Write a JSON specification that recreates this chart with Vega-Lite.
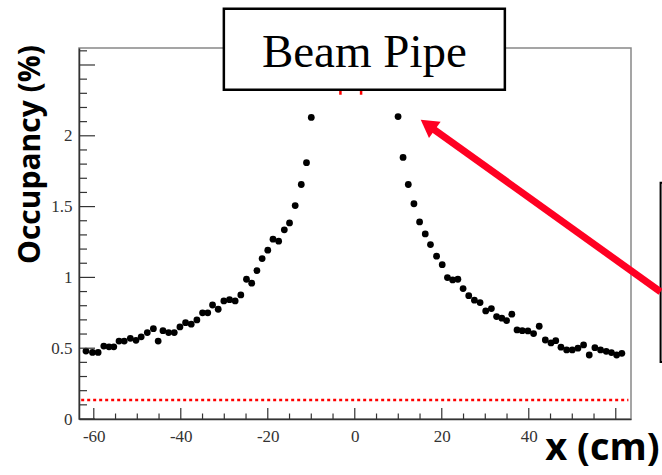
{
  "$schema": "https://vega.github.io/schema/vega-lite/v6.json",
  "width": 552,
  "height": 371,
  "autosize": {"type": "none"},
  "padding": {"left": 79, "top": 48, "right": 31, "bottom": 56},
  "background": "white",
  "config": {"view": {"stroke": "#888888", "strokeWidth": 1.5}},
  "datasets": {
    "pts": [
      {"x": -61.8, "y": 0.48}, {"x": -60.3, "y": 0.47}, {"x": -59.0, "y": 0.47}, {"x": -57.7, "y": 0.515},
      {"x": -56.5, "y": 0.51}, {"x": -55.4, "y": 0.51}, {"x": -54.2, "y": 0.55}, {"x": -53.0, "y": 0.55},
      {"x": -51.6, "y": 0.57}, {"x": -50.3, "y": 0.556}, {"x": -49.1, "y": 0.58}, {"x": -47.7, "y": 0.61},
      {"x": -46.3, "y": 0.638}, {"x": -45.2, "y": 0.55}, {"x": -44.1, "y": 0.624}, {"x": -42.8, "y": 0.61},
      {"x": -41.5, "y": 0.61}, {"x": -40.2, "y": 0.65}, {"x": -38.9, "y": 0.68}, {"x": -37.6, "y": 0.67},
      {"x": -36.3, "y": 0.70}, {"x": -35.0, "y": 0.75}, {"x": -33.8, "y": 0.75}, {"x": -32.7, "y": 0.805},
      {"x": -31.4, "y": 0.775}, {"x": -30.1, "y": 0.834}, {"x": -28.8, "y": 0.843}, {"x": -27.5, "y": 0.834},
      {"x": -26.2, "y": 0.876}, {"x": -24.9, "y": 0.987}, {"x": -23.7, "y": 0.959}, {"x": -22.5, "y": 1.048},
      {"x": -21.3, "y": 1.133}, {"x": -20.0, "y": 1.192}, {"x": -18.8, "y": 1.27}, {"x": -17.5, "y": 1.256},
      {"x": -16.2, "y": 1.336}, {"x": -15.0, "y": 1.385}, {"x": -13.7, "y": 1.507}, {"x": -12.3, "y": 1.656},
      {"x": -11.1, "y": 1.81}, {"x": -10.0, "y": 2.13},
      {"x": 9.95, "y": 2.136}, {"x": 11.1, "y": 1.847}, {"x": 12.3, "y": 1.656}, {"x": 13.6, "y": 1.52},
      {"x": 14.9, "y": 1.392}, {"x": 16.2, "y": 1.307}, {"x": 17.4, "y": 1.232}, {"x": 18.8, "y": 1.15},
      {"x": 20.1, "y": 1.09}, {"x": 21.3, "y": 0.999}, {"x": 22.5, "y": 0.982}, {"x": 23.7, "y": 0.987},
      {"x": 24.9, "y": 0.921}, {"x": 26.2, "y": 0.871}, {"x": 27.5, "y": 0.839}, {"x": 28.8, "y": 0.822},
      {"x": 30.1, "y": 0.763}, {"x": 31.4, "y": 0.78}, {"x": 32.6, "y": 0.723}, {"x": 33.8, "y": 0.712},
      {"x": 34.9, "y": 0.695}, {"x": 36.1, "y": 0.74}, {"x": 37.3, "y": 0.629}, {"x": 38.5, "y": 0.624},
      {"x": 39.8, "y": 0.622}, {"x": 41.1, "y": 0.603}, {"x": 42.4, "y": 0.655}, {"x": 43.8, "y": 0.558},
      {"x": 45.1, "y": 0.537}, {"x": 46.2, "y": 0.553}, {"x": 47.4, "y": 0.507}, {"x": 48.7, "y": 0.488},
      {"x": 50.0, "y": 0.488}, {"x": 51.3, "y": 0.50}, {"x": 52.6, "y": 0.523}, {"x": 53.9, "y": 0.452},
      {"x": 55.2, "y": 0.504}, {"x": 56.5, "y": 0.488}, {"x": 57.8, "y": 0.478}, {"x": 59.0, "y": 0.469},
      {"x": 60.2, "y": 0.452}, {"x": 61.4, "y": 0.464}
    ],
    "xticks": [
      {"x": -60, "y": 0, "kind": "major"}, {"x": -55, "y": 0, "kind": "minor"}, {"x": -50, "y": 0, "kind": "minor"}, {"x": -45, "y": 0, "kind": "minor"},
      {"x": -40, "y": 0, "kind": "major"}, {"x": -35, "y": 0, "kind": "minor"}, {"x": -30, "y": 0, "kind": "minor"}, {"x": -25, "y": 0, "kind": "minor"},
      {"x": -20, "y": 0, "kind": "major"}, {"x": -15, "y": 0, "kind": "minor"}, {"x": -10, "y": 0, "kind": "minor"}, {"x": -5, "y": 0, "kind": "minor"},
      {"x": 0, "y": 0, "kind": "major"}, {"x": 5, "y": 0, "kind": "minor"}, {"x": 10, "y": 0, "kind": "minor"}, {"x": 15, "y": 0, "kind": "minor"},
      {"x": 20, "y": 0, "kind": "major"}, {"x": 25, "y": 0, "kind": "minor"}, {"x": 30, "y": 0, "kind": "minor"}, {"x": 35, "y": 0, "kind": "minor"},
      {"x": 40, "y": 0, "kind": "major"}, {"x": 45, "y": 0, "kind": "minor"}, {"x": 50, "y": 0, "kind": "minor"}, {"x": 55, "y": 0, "kind": "minor"},
      {"x": 60, "y": 0, "kind": "major"}
    ],
    "yticks": [
      {"x": -63.4, "y": 0, "kind": "major"}, {"x": -63.4, "y": 0.1, "kind": "minor"}, {"x": -63.4, "y": 0.2, "kind": "minor"}, {"x": -63.4, "y": 0.3, "kind": "minor"}, {"x": -63.4, "y": 0.4, "kind": "minor"},
      {"x": -63.4, "y": 0.5, "kind": "major"}, {"x": -63.4, "y": 0.6, "kind": "minor"}, {"x": -63.4, "y": 0.7, "kind": "minor"}, {"x": -63.4, "y": 0.8, "kind": "minor"}, {"x": -63.4, "y": 0.9, "kind": "minor"},
      {"x": -63.4, "y": 1.0, "kind": "major"}, {"x": -63.4, "y": 1.1, "kind": "minor"}, {"x": -63.4, "y": 1.2, "kind": "minor"}, {"x": -63.4, "y": 1.3, "kind": "minor"}, {"x": -63.4, "y": 1.4, "kind": "minor"},
      {"x": -63.4, "y": 1.5, "kind": "major"}, {"x": -63.4, "y": 1.6, "kind": "minor"}, {"x": -63.4, "y": 1.7, "kind": "minor"}, {"x": -63.4, "y": 1.8, "kind": "minor"}, {"x": -63.4, "y": 1.9, "kind": "minor"},
      {"x": -63.4, "y": 2.0, "kind": "major"}, {"x": -63.4, "y": 2.1, "kind": "minor"}, {"x": -63.4, "y": 2.2, "kind": "minor"}, {"x": -63.4, "y": 2.3, "kind": "minor"}, {"x": -63.4, "y": 2.4, "kind": "minor"},
      {"x": -63.4, "y": 2.5, "kind": "major"}, {"x": -63.4, "y": 2.6, "kind": "minor"}
    ],
    "hline": [{"x": -62.9, "x2": 62.9, "y": 0.134}],
    "vmarks": [{"x": -3.3, "y": 2.29, "y2": 2.4}, {"x": 1.45, "y": 2.29, "y2": 2.4}],
    "box": [{"x": -30.1, "x2": 34.5, "y": 2.325, "y2": 2.898, "label": "Beam Pipe", "tx": 2.2, "ty": 2.488}],
    "rbox": [{"x": 70.3, "x2": 90, "y": 0.403, "y2": 1.668}],
    "arrow": [{"x": 70.3, "y": 0.898, "k": 0}, {"x": 17.2, "y": 2.067, "k": 1}],
    "head": [{"x": 16.78, "y": 2.078}]
  },
  "layer": [
    {
      "data": {"name": "pts"},
      "mark": {"type": "point", "filled": true, "shape": "circle", "size": 46, "color": "black", "opacity": 1},
      "encoding": {
        "x": {
          "field": "x", "type": "quantitative",
          "scale": {"domain": [-63.4, 63.5], "nice": false, "zero": false},
          "axis": {
            "values": [-60, -40, -20, 0, 20, 40],
            "labelExpr": "datum.value + ''",
            "ticks": false, "tickSize": 0,
            "labelFont": "Liberation Serif", "labelFontSize": 17, "labelColor": "#333333",
            "labelPadding": 9, "labelOverlap": false, "labelFlush": false,
            "grid": false, "domainColor": "#333333", "domainWidth": 1.5,
            "title": "x (cm)", "titleFont": "Open Sans", "titleFontWeight": "bold", "titleFontSize": 38,
            "titleColor": "black", "titleX": 523, "titleY": 29, "titleAlign": "center", "titleBaseline": "middle"
          }
        },
        "y": {
          "field": "y", "type": "quantitative",
          "scale": {"domain": [0, 2.62], "nice": false, "zero": false},
          "axis": {
            "values": [0, 0.5, 1, 1.5, 2],
            "labelExpr": "datum.value + ''",
            "ticks": false, "tickSize": 0,
            "labelFont": "Liberation Serif", "labelFontSize": 17, "labelColor": "#333333",
            "labelPadding": 7, "labelOverlap": false, "labelFlush": false,
            "grid": false, "domainColor": "#333333", "domainWidth": 1.5,
            "title": "Occupancy (%)", "titleFont": "Open Sans", "titleFontWeight": "bold", "titleFontSize": 30,
            "titleColor": "black", "titleX": -49, "titleY": 106, "titleAngle": -90, "titleAlign": "center", "titleBaseline": "middle"
          }
        }
      }
    },
    {
      "data": {"name": "xticks"},
      "transform": [{"filter": "datum.kind == 'major'"}],
      "mark": {"type": "tick", "orient": "vertical", "size": 11, "thickness": 1.2, "yOffset": -5.5, "color": "#333333", "opacity": 1},
      "encoding": {
        "x": {"field": "x", "type": "quantitative"},
        "y": {"field": "y", "type": "quantitative"}
      }
    },
    {
      "data": {"name": "xticks"},
      "transform": [{"filter": "datum.kind == 'minor'"}],
      "mark": {"type": "tick", "orient": "vertical", "size": 5.5, "thickness": 1.2, "yOffset": -2.75, "color": "#333333", "opacity": 1},
      "encoding": {
        "x": {"field": "x", "type": "quantitative"},
        "y": {"field": "y", "type": "quantitative"}
      }
    },
    {
      "data": {"name": "yticks"},
      "transform": [{"filter": "datum.kind == 'major'"}],
      "mark": {"type": "tick", "orient": "horizontal", "size": 16, "thickness": 1.2, "xOffset": 8, "color": "#333333", "opacity": 1},
      "encoding": {
        "x": {"field": "x", "type": "quantitative"},
        "y": {"field": "y", "type": "quantitative"}
      }
    },
    {
      "data": {"name": "yticks"},
      "transform": [{"filter": "datum.kind == 'minor'"}],
      "mark": {"type": "tick", "orient": "horizontal", "size": 8, "thickness": 1.2, "xOffset": 4, "color": "#333333", "opacity": 1},
      "encoding": {
        "x": {"field": "x", "type": "quantitative"},
        "y": {"field": "y", "type": "quantitative"}
      }
    },
    {
      "data": {"name": "hline"},
      "mark": {"type": "rule", "color": "#ff0000", "strokeWidth": 2.5, "strokeDash": [3, 3]},
      "encoding": {
        "x": {"field": "x", "type": "quantitative"},
        "x2": {"field": "x2"},
        "y": {"field": "y", "type": "quantitative"}
      }
    },
    {
      "data": {"name": "vmarks"},
      "mark": {"type": "rule", "color": "#ff0000", "strokeWidth": 2.5},
      "encoding": {
        "x": {"field": "x", "type": "quantitative"},
        "y": {"field": "y", "type": "quantitative"},
        "y2": {"field": "y2"}
      }
    },
    {
      "data": {"name": "box"},
      "mark": {"type": "rect", "fill": "white", "stroke": "black", "strokeWidth": 2.5},
      "encoding": {
        "x": {"field": "x", "type": "quantitative"},
        "x2": {"field": "x2"},
        "y": {"field": "y", "type": "quantitative"},
        "y2": {"field": "y2"}
      }
    },
    {
      "data": {"name": "box"},
      "mark": {"type": "text", "font": "Liberation Serif", "fontSize": 47, "color": "black", "align": "center", "baseline": "alphabetic"},
      "encoding": {
        "x": {"field": "tx", "type": "quantitative"},
        "y": {"field": "ty", "type": "quantitative"},
        "text": {"field": "label"}
      }
    },
    {
      "data": {"name": "rbox"},
      "mark": {"type": "rect", "fill": "white", "stroke": "black", "strokeWidth": 2},
      "encoding": {
        "x": {"field": "x", "type": "quantitative"},
        "x2": {"field": "x2"},
        "y": {"field": "y", "type": "quantitative"},
        "y2": {"field": "y2"}
      }
    },
    {
      "data": {"name": "arrow"},
      "mark": {"type": "line", "color": "#ff0022", "strokeWidth": 7, "strokeCap": "butt"},
      "encoding": {
        "x": {"field": "x", "type": "quantitative"},
        "y": {"field": "y", "type": "quantitative"},
        "order": {"field": "k"}
      }
    },
    {
      "data": {"name": "head"},
      "mark": {"type": "point", "shape": "triangle-up", "filled": true, "size": 400, "angle": 305.6, "color": "#ff0022", "opacity": 1},
      "encoding": {
        "x": {"field": "x", "type": "quantitative"},
        "y": {"field": "y", "type": "quantitative"}
      }
    }
  ]
}
